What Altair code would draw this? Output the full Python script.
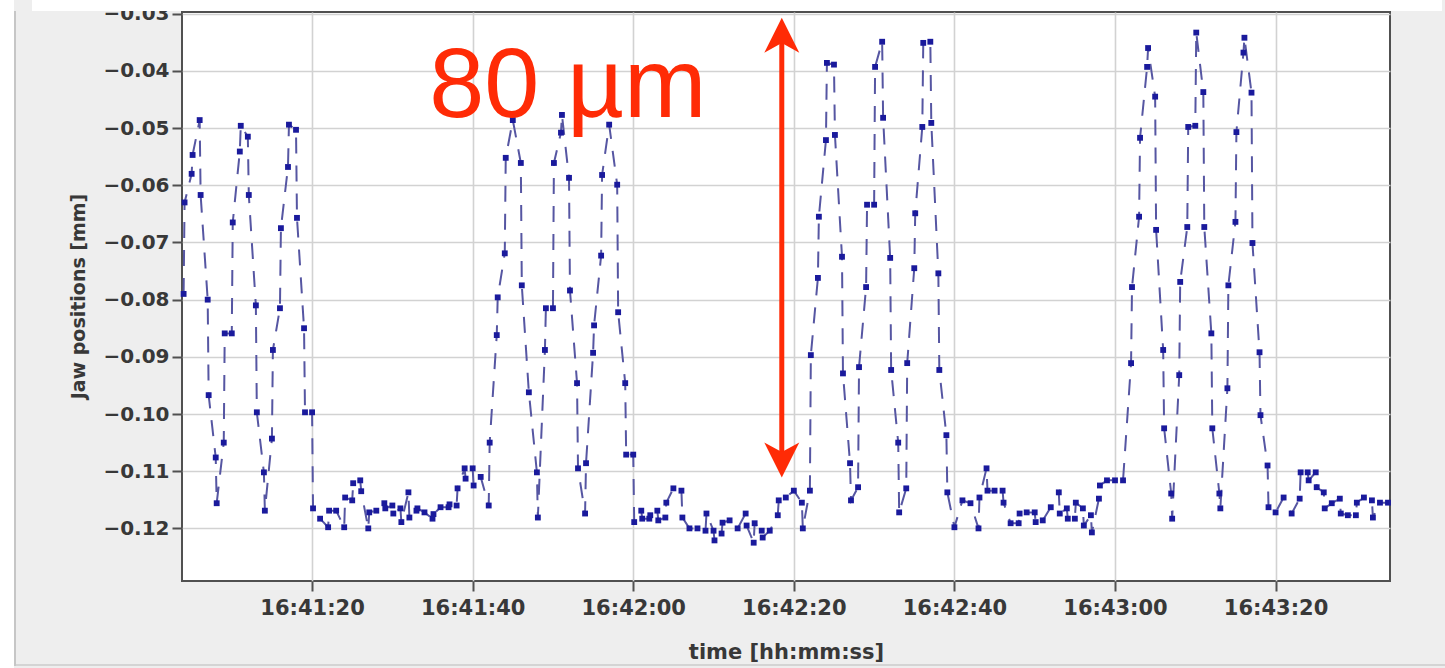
import json
import pandas as pd
import altair as alt

# ---- data: (seconds after 16:41:00, jaw position in mm)
OSC1 = [(4.0, -0.0790), (4.12, -0.0630), (5.0, -0.0580), (5.12, -0.0547), (6.0, -0.0486), (6.12, -0.0617),
        (7.0, -0.0800), (7.12, -0.0967), (8.0, -0.1076), (8.12, -0.1156), (9.0, -0.1050), (9.12, -0.0859),
        (10.0, -0.0859), (10.12, -0.0665), (11.0, -0.0541), (11.12, -0.0496), (12.0, -0.0515), (12.12, -0.0617),
        (13.0, -0.0810), (13.12, -0.0997), (14.0, -0.1102), (14.12, -0.1169), (15.0, -0.1043), (15.12, -0.0888),
        (16.0, -0.0815), (16.12, -0.0675), (17.0, -0.0568), (17.12, -0.0494), (18.0, -0.0503), (18.12, -0.0657),
        (19.0, -0.0850), (19.12, -0.0997), (20.0, -0.0997), (20.12, -0.1165)]
FLAT1 = [(21.0, -0.1183), (22.0, -0.1198), (22.12, -0.1169), (23.0, -0.1169), (24.0, -0.1198), (24.12, -0.1146),
         (25.0, -0.1151), (25.12, -0.1121), (26.0, -0.1116), (26.12, -0.1135), (27.0, -0.1200), (27.12, -0.1172),
         (28.0, -0.1169), (29.0, -0.1156), (29.12, -0.1165), (30.0, -0.1160), (30.12, -0.1174), (31.0, -0.1165),
         (31.12, -0.1189), (32.0, -0.1137), (32.12, -0.1181), (33.0, -0.1169), (33.12, -0.1165), (34.0, -0.1172),
         (35.0, -0.1183), (35.12, -0.1175), (36.0, -0.1163), (37.0, -0.1163), (37.12, -0.1158), (38.0, -0.1160),
         (38.12, -0.1130), (39.0, -0.1095), (39.12, -0.1113), (40.0, -0.1095), (40.12, -0.1125), (41.0, -0.1110),
         (42.0, -0.1160), (42.12, -0.1050)]
OSC2 = [(43.0, -0.0862), (43.12, -0.0796), (44.0, -0.0719), (44.12, -0.0552), (45.0, -0.0486), (46.0, -0.0561),
        (46.12, -0.0775), (47.0, -0.0962), (48.0, -0.1102), (48.12, -0.1181), (49.0, -0.0888), (49.12, -0.0815),
        (50.0, -0.0815), (50.12, -0.0561), (51.0, -0.0508), (51.12, -0.0477), (52.0, -0.0587), (52.12, -0.0784),
        (53.0, -0.0946), (53.12, -0.1095), (54.0, -0.1174), (54.12, -0.1086), (55.0, -0.0893), (55.12, -0.0845),
        (56.0, -0.0723), (56.12, -0.0582), (57.0, -0.0494), (58.0, -0.0599), (58.12, -0.0822), (59.0, -0.0946),
        (59.12, -0.1071), (60.0, -0.1071), (60.12, -0.1189)]
FLAT2 = [(61.0, -0.1169), (61.12, -0.1183), (62.0, -0.1183), (62.12, -0.1177), (63.0, -0.1169), (63.12, -0.1186),
         (64.0, -0.1181), (64.12, -0.1155), (65.0, -0.1130), (66.0, -0.1134), (66.12, -0.1181), (67.0, -0.1200),
         (68.0, -0.1200), (69.0, -0.1204), (69.12, -0.1174), (70.0, -0.1204), (70.12, -0.1221), (71.0, -0.1209),
         (71.12, -0.1190), (72.0, -0.1186), (73.0, -0.1200), (74.0, -0.1174), (74.12, -0.1195), (75.0, -0.1225),
         (75.12, -0.1191), (76.0, -0.1204), (76.12, -0.1216), (77.0, -0.1204), (78.0, -0.1177), (78.12, -0.1151),
         (79.0, -0.1146), (80.0, -0.1134), (81.0, -0.1155), (81.12, -0.1200), (82.0, -0.1134)]
OSC3 = [(82.12, -0.0897), (83.0, -0.0762), (83.12, -0.0655), (84.0, -0.0521), (84.12, -0.0386), (85.0, -0.0389),
        (85.12, -0.0512), (86.0, -0.0725), (86.12, -0.0929), (87.0, -0.1086), (87.12, -0.1151), (88.0, -0.1128),
        (88.12, -0.0918), (89.0, -0.0778), (89.12, -0.0634), (90.0, -0.0634), (90.12, -0.0393), (91.0, -0.0349),
        (91.12, -0.0482), (92.0, -0.0727), (92.12, -0.0923), (93.0, -0.1050), (93.12, -0.1172), (94.0, -0.1130),
        (94.12, -0.0911), (95.0, -0.0745), (95.12, -0.0649), (96.0, -0.0498), (96.12, -0.0351), (97.0, -0.0349),
        (97.12, -0.0491), (98.0, -0.0754), (98.12, -0.0923), (99.0, -0.1037), (99.12, -0.1137), (100.0, -0.1198)]
FLAT3 = [(101.0, -0.1151), (102.0, -0.1156), (103.0, -0.1200), (103.12, -0.1146), (104.0, -0.1095), (104.12, -0.1134),
         (105.0, -0.1134), (106.0, -0.1134), (106.12, -0.1155), (107.0, -0.1191), (108.0, -0.1191), (108.12, -0.1174),
         (109.0, -0.1172), (110.0, -0.1172), (110.12, -0.1189), (111.0, -0.1186), (112.0, -0.1163), (113.0, -0.1137),
         (113.12, -0.1174), (114.0, -0.1165), (114.12, -0.1183), (115.0, -0.1183), (115.12, -0.1155), (116.0, -0.1165),
         (116.12, -0.1195), (117.0, -0.1177), (117.12, -0.1207), (118.0, -0.1148), (118.12, -0.1125), (119.0, -0.1116),
         (120.0, -0.1116), (121.0, -0.1116)]
OSC4 = [(122.0, -0.0911), (122.12, -0.0778), (123.0, -0.0655), (123.12, -0.0517), (124.0, -0.0393), (124.12, -0.0360),
        (125.0, -0.0445), (125.12, -0.0678), (126.0, -0.0888), (126.12, -0.1025), (127.0, -0.1139), (127.12, -0.1183),
        (128.0, -0.0932), (128.12, -0.0769), (129.0, -0.0673), (129.12, -0.0498), (130.0, -0.0496), (130.12, -0.0333),
        (131.0, -0.0437), (131.12, -0.0673), (132.0, -0.0859), (132.12, -0.1025), (133.0, -0.1139), (133.12, -0.1165),
        (134.0, -0.0955), (134.12, -0.0775), (135.0, -0.0664), (135.12, -0.0507), (136.0, -0.0368), (136.12, -0.0342),
        (137.0, -0.0438), (137.12, -0.0701), (138.0, -0.0892), (138.12, -0.1002), (139.0, -0.1090), (139.12, -0.1163)]
FLAT4 = [(140.0, -0.1172), (141.0, -0.1146), (142.0, -0.1174), (143.0, -0.1148), (143.12, -0.1102), (144.0, -0.1102),
         (144.12, -0.1116), (145.0, -0.1102), (145.12, -0.1128), (146.0, -0.1137), (146.12, -0.1165), (147.0, -0.1156),
         (148.0, -0.1148), (148.12, -0.1174), (149.0, -0.1177), (150.0, -0.1177), (150.12, -0.1155), (151.0, -0.1146),
         (152.0, -0.1151), (152.12, -0.1181), (153.0, -0.1155), (154.0, -0.1155)]

X_DOMAIN = [3.8, 154.25]
Y_DOMAIN = [-0.1292, -0.0297]
TICK_SECONDS = [20, 40, 60, 80, 100, 120, 140]
TICK_LABELS = ["16:41:20", "16:41:40", "16:42:00", "16:42:20", "16:42:40", "16:43:00", "16:43:20"]
Y_TICKS = [-0.03, -0.04, -0.05, -0.06, -0.07, -0.08, -0.09, -0.10, -0.11, -0.12]

ANNOT_TEXT = "80 µm"
ANNOT_POS = (34.6, -0.0480)
ARROW_T = 78.5
ARROW_TIPS = (-0.0307, -0.1111)
ARROW_SHAFT = (-0.0345, -0.1072)

rows = []
for seg in [OSC1, FLAT1, OSC2, FLAT2, OSC3, FLAT3, OSC4, FLAT4]:
    for t, v in seg:
        rows.append({"t": t, "v": v, "i": len(rows)})
df = pd.DataFrame(rows)

FONT = "DejaVu Sans"
TXT = "#383838"

label_expr = f"{json.dumps(TICK_LABELS)}[indexof({json.dumps(TICK_SECONDS)}, datum.value)]"

X = alt.X("t:Q", scale=alt.Scale(domain=X_DOMAIN, nice=False, zero=False),
          axis=alt.Axis(values=TICK_SECONDS, labelExpr=label_expr, title="time [hh:mm:ss]",
                        labelFont=FONT, labelFontWeight="bold", labelFontSize=21, labelColor=TXT,
                        labelPadding=6, tickSize=10, tickWidth=2, tickColor="#505050",
                        domain=False, grid=True, gridColor="#d2d2d2", gridWidth=1.6,
                        titleFont=FONT, titleFontWeight="bold", titleFontSize=21, titleColor=TXT,
                        titleY=77, titleBaseline="alphabetic"))
Y = alt.Y("v:Q", scale=alt.Scale(domain=Y_DOMAIN, nice=False, zero=False),
          axis=alt.Axis(values=Y_TICKS, format=".2f", title="Jaw positions [mm]",
                        labelFont=FONT, labelFontWeight="bold", labelFontSize=20, labelColor=TXT,
                        labelPadding=3, tickSize=10, tickWidth=2, tickColor="#505050",
                        domain=False, grid=True, gridColor="#d2d2d2", gridWidth=1.6,
                        titleFont=FONT, titleFontWeight="bold", titleFontSize=19, titleColor=TXT,
                        titleAngle=-90, titleX=-98, titleY=284, titleAlign="center",
                        titleBaseline="alphabetic"))

line = alt.Chart(df).mark_line(color="#5656a2", strokeWidth=2, strokeDash=[16, 12]).encode(
    x=X, y=Y, order="i:Q")
pts = alt.Chart(df).mark_point(shape="square", filled=True, size=34, color="#1a1a9c", opacity=1).encode(
    x=X, y=Y)

ann_df = pd.DataFrame({"t": [ANNOT_POS[0]], "v": [ANNOT_POS[1]], "label": [ANNOT_TEXT]})
ann = alt.Chart(ann_df).mark_text(font="Liberation Sans", fontSize=99, color="#ff2b06",
                                  align="left", baseline="alphabetic").encode(x=X, y=Y, text="label:N")

shaft_df = pd.DataFrame({"t": [ARROW_T], "v": [ARROW_SHAFT[0]], "v2": [ARROW_SHAFT[1]]})
shaft = alt.Chart(shaft_df).mark_rule(color="#ff2b06", strokeWidth=5).encode(x=X, y=Y, y2="v2:Q")

up_df = pd.DataFrame({"t": [ARROW_T], "v": [ARROW_TIPS[0]]})
down_df = pd.DataFrame({"t": [ARROW_T], "v": [ARROW_TIPS[1]]})
head_up = alt.Chart(up_df).mark_point(shape="M0,0 L1,2 L0,1.45 L-1,2 Z", filled=True, size=1225,
                                      color="#ff2b06", opacity=1).encode(x=X, y=Y)
head_down = alt.Chart(down_df).mark_point(shape="M0,0 L1,-2 L0,-1.45 L-1,-2 Z", filled=True, size=1225,
                                          color="#ff2b06", opacity=1).encode(x=X, y=Y)

# decorative frame of the screenshot (pixel offsets relative to the plot origin)
one = pd.DataFrame({"a": [0]})
left_strip = alt.Chart(one).mark_rect(color="white").encode(
    x=alt.value(-182), x2=alt.value(-168), y=alt.value(-12), y2=alt.value(656))
left_border = alt.Chart(one).mark_rect(color="#c6c6c6").encode(
    x=alt.value(-168), x2=alt.value(-166), y=alt.value(-1), y2=alt.value(654))
bottom_border = alt.Chart(one).mark_rect(color="#d4d4d4").encode(
    x=alt.value(-166), x2=alt.value(1263), y=alt.value(652), y2=alt.value(654))
top_band = alt.Chart(one).mark_rect(color="white").encode(
    x=alt.value(-150), x2=alt.value(1260), y=alt.value(-12), y2=alt.value(-1))

chart = alt.layer(left_strip, left_border, bottom_border, top_band, line, pts, shaft, head_up, head_down, ann).properties(
    width=1208, height=569,
    padding={"left": 182, "top": 12, "right": 55, "bottom": 87},
    autosize=alt.AutoSizeParams(type="none"),
    background="#eeeeee",
).configure_view(fill="white", stroke="#505050", strokeWidth=2)

chart.save("out.html", embed_options={"renderer": "svg", "actions": False})
